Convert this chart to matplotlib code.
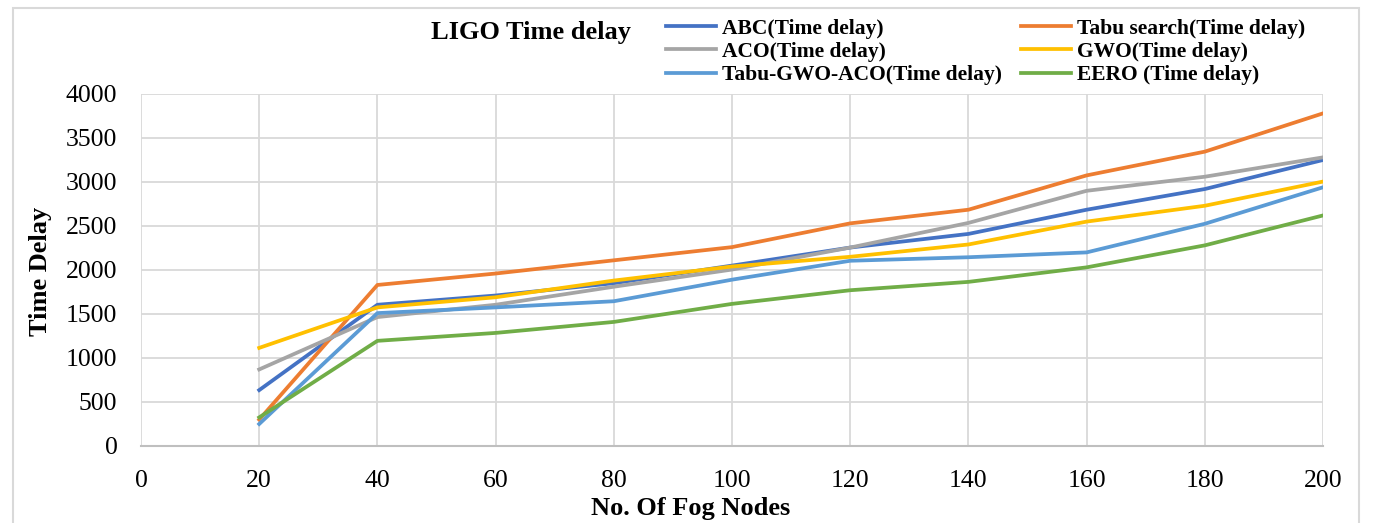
import numpy as np
import matplotlib.pyplot as plt
from matplotlib.patches import Rectangle

plt.rcParams['font.family'] = ['Liberation Serif', 'DejaVu Serif']

nodes = [20, 40, 60, 80, 100, 120, 140, 160, 180, 200]
abc = [635, 1605, 1710, 1850, 2050, 2255, 2410, 2685, 2920, 3250]
tabu = [300, 1830, 1960, 2110, 2260, 2530, 2685, 3075, 3345, 3780]
aco = [870, 1465, 1605, 1810, 2005, 2255, 2535, 2900, 3060, 3280]
gwo = [1115, 1575, 1690, 1880, 2040, 2150, 2290, 2550, 2730, 3005]
hybrid = [250, 1510, 1575, 1645, 1890, 2105, 2145, 2200, 2525, 2940]
eero = [325, 1195, 1285, 1410, 1615, 1770, 1865, 2030, 2280, 2620]

fig = plt.figure(figsize=(13.73, 5.23), dpi=100)
ax = fig.add_axes([141/1373, 1 - 446/523, 1182/1373, 352/523])

# outer chart frame
fig.patches.append(Rectangle((13/1373, -0.1), (1359-13)/1373, 1.1 - 8/523,
                             transform=fig.transFigure, fill=False,
                             edgecolor='#D9D9D9', linewidth=1.5))

lw = 2.7
l1, = ax.plot(nodes, abc, color='#4472C4', lw=lw, label='ABC(Time delay)')
l2, = ax.plot(nodes, tabu, color='#ED7D31', lw=lw, label='Tabu search(Time delay)')
l3, = ax.plot(nodes, aco, color='#A5A5A5', lw=lw, label='ACO(Time delay)')
l4, = ax.plot(nodes, gwo, color='#FFC000', lw=lw, label='GWO(Time delay)')
l5, = ax.plot(nodes, hybrid, color='#5B9BD5', lw=lw, label='Tabu-GWO-ACO(Time delay)')
l6, = ax.plot(nodes, eero, color='#70AD47', lw=lw, label='EERO (Time delay)')

ax.set_xlim(0, 200)
ax.set_ylim(0, 4000)
ax.set_xticks(np.arange(0, 201, 20))
ax.set_yticks(np.arange(0, 4001, 500))
ax.grid(True, color='#D9D9D9', linewidth=1.3)
ax.set_axisbelow(True)
for s in ['top', 'right', 'left']:
    ax.spines[s].set_visible(False)
ax.spines['bottom'].set_color('#BFBFBF')
ax.spines['bottom'].set_linewidth(1.5)
ax.tick_params(length=0, labelsize=18.5)
ax.tick_params(axis='x', pad=17)
ax.tick_params(axis='y', pad=17)

fig.text(531/1373, 1 - 32/523, 'LIGO Time delay', fontsize=19, fontweight='bold',
         ha='center', va='center')
fig.text(691/1373, 1 - 509/523, 'No. Of Fog Nodes', fontsize=19, fontweight='bold',
         ha='center', va='center')
fig.text(40/1373, 1 - 271/523, 'Time Delay', fontsize=19, fontweight='bold',
         ha='center', va='center', rotation=90)

fig.legend(handles=[l1, l3, l5, l2, l4, l6], ncol=2, loc='center left',
           bbox_to_anchor=(666/1373, 1 - 52/523), frameon=False,
           prop={'weight': 'bold', 'size': 15.5}, handlelength=2.3,
           handletextpad=0.3, columnspacing=0.9, labelspacing=0.15,
           borderaxespad=0, borderpad=0)

fig.savefig('out.png', dpi=100)
